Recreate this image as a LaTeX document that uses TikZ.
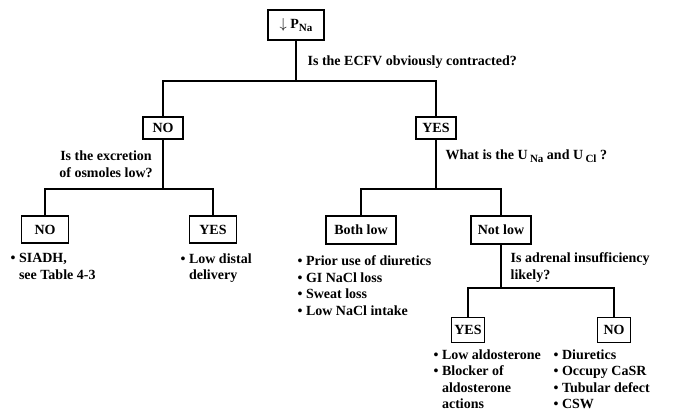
\documentclass[tikz,border=0pt]{standalone}
\usepackage{fontspec}
\setmainfont{Liberation Serif}
\usetikzlibrary{positioning}
\tikzset{
	box/.style={draw, line width=1.3pt, inner sep=0pt},
	ask/.style={inner sep=0pt, align=left},
	causes/.style={inner sep=0pt, align=left, anchor=north west},
}
\newcommand{\bul}{\textbullet\ }
\newcommand{\ind}{\hphantom{\textbullet\ }}
\newcommand{\lowsub}[1]{\,\raisebox{-0.45ex}{\fontsize{11}{11}\selectfont #1}}
\newcommand{\pnasub}[1]{\raisebox{-0.5ex}{\fontsize{11}{11}\selectfont #1}}
\begin{document}
\begin{tikzpicture}[x=1pt, y=-1pt, line width=1.3pt,
		font=\bfseries\fontsize{14}{16.5}\selectfont]
		\useasboundingbox (0,0) rectangle (686,416);
		%--start
		\node[box, minimum width=56, minimum height=30] (pna) at (296,25) {$\downarrow$ P\pnasub{Na}};
		\node[ask, anchor=west] (q-ecfv) at (307,62) {Is the ECFV obviously contracted?};
		\coordinate (j-ecfv) at (296,81);
		
		%--first answers
		\node[box, minimum width=40, minimum height=22] (no-a) at (163,128) {NO};
		\node[box, minimum width=40, minimum height=22] (yes-a) at (436,128) {YES};
		\draw (pna) -- (j-ecfv);
		\draw (no-a) |- (j-ecfv) -| (yes-a);
		
		%--left branch
		\node[ask, align=center] (q-osm) at (106,164) {Is the excretion\\of osmoles low?};
		\coordinate (j-osm) at (163,189);
		\node[box, minimum width=47, minimum height=27] (no-b) at (45,229.5) {NO};
		\node[box, minimum width=47, minimum height=27] (yes-b) at (213,229.5) {YES};
		\draw (no-a) -- (j-osm);
		\draw (no-b) |- (j-osm) -| (yes-b);
		\node[causes] (c-siadh) at (10,253) {\bul SIADH,\\\ind see Table 4-3};
		\node[causes] (c-distal) at (180,253) {\bul Low distal\\\ind delivery};
		
		%--right branch
		\node[ask, anchor=west] (q-urine) at (445,156) {What is the U\lowsub{Na} and U\lowsub{Cl} ?};
		\coordinate (j-urine) at (436,189);
		\node[box, minimum width=70, minimum height=28] (both) at (361,230) {Both low};
		\node[box, minimum width=60, minimum height=28] (notlow) at (501,230) {Not low};
		\draw (yes-a) -- (j-urine);
		\draw (both) |- (j-urine) -| (notlow);
		\node[causes] (c-both) at (297,255) {\bul Prior use of diuretics\\\bul GI NaCl loss\\\bul Sweat loss\\\bul Low NaCl intake};
		
		%--adrenal
		\node[ask, anchor=north west] (q-adr) at (510,252) {Is adrenal insufficiency\\likely?};
		\coordinate (j-adr) at (501,288);
		\node[box, minimum width=33, minimum height=25] (yes-c) at (468,330) {YES};
		\node[box, minimum width=33, minimum height=25] (no-c) at (614,330) {NO};
		\draw (notlow) -- (j-adr);
		\draw (yes-c) |- (j-adr) -| (no-c);
		\node[causes] (c-aldo) at (433,349) {\bul Low aldosterone\\\bul Blocker of\\\ind aldosterone\\\ind actions};
		\node[causes] (c-other) at (553,349) {\bul Diuretics\\\bul Occupy CaSR\\\bul Tubular defect\\\bul CSW};
	\end{tikzpicture}
\end{document}
